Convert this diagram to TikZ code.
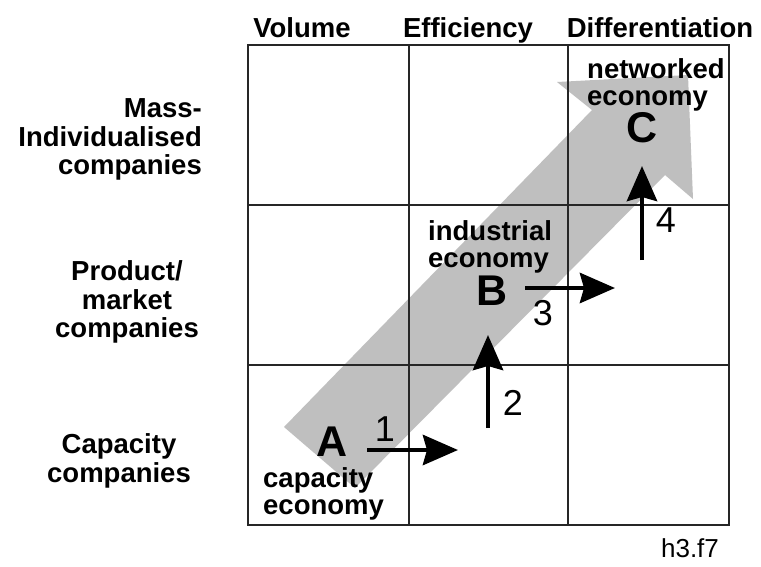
\documentclass[tikz,border=0pt]{standalone}
\usepackage{fontspec}
\setmainfont{Liberation Sans}
\usetikzlibrary{arrows.meta}
\begin{document}
\begin{tikzpicture}[x=1pt,y=-1pt,
  hdr/.style={font=\fontsize{27.5}{28.5}\selectfont\bfseries, inner sep=0pt, anchor=base},
  rowlbl/.style={font=\fontsize{27.5}{28.5}\selectfont\bfseries, inner sep=0pt},
  econ/.style={font=\fontsize{27.5}{27}\selectfont\bfseries, inner sep=0pt, align=left, anchor=west},
  letter/.style={font=\fontsize{43}{43}\selectfont\bfseries, inner sep=0pt},
  num/.style={font=\fontsize{36}{36}\selectfont, inner sep=0pt},
  move/.style={line width=4.8pt, -{Stealth[length=35pt,width=30pt,inset=4pt]}},
  gridline/.style={line width=1.3pt, draw=black!85},
  band/.style={fill=black!25}
]
\useasboundingbox (0,0) rectangle (761,566);
\fill[white] (0,0) rectangle (761,566);

% broad development arrow behind the matrix
\fill[band] (284,427) -- (592,110) -- (557,82) -- (688,75) -- (693,199)
  -- (665,175) -- (355,488) -- cycle;

% 3x3 matrix
\draw[gridline] (248,45) rectangle (729,525);
\draw[gridline] (409,45) -- (409,525) (568,45) -- (568,525);
\draw[gridline] (248,205) -- (729,205) (248,365) -- (729,365);

% column headers
\node[hdr] (hvol) at (302,37) {Volume};
\node[hdr] (heff) at (468,37) {Efficiency};
\node[hdr] (hdif) at (660,37) {Differentiation};

% row headers
\node[rowlbl, align=right, anchor=east] (rmass) at (202,139.5) {Mass-\\Individualised\\companies};
\node[rowlbl, align=center] (rprod) at (127,302) {Product/\\market\\companies};
\node[rowlbl, align=center] (rcap) at (119,461) {Capacity\\companies};

% economy stages
\node[letter] (A) at (332,442) {A};
\node[letter] (B) at (492,291) {B};
\node[letter] (C) at (642,128) {C};
\node[econ] (eA) at (263,494) {capacity\\economy};
\node[econ] (eB) at (428,247) {industrial\\economy};
\node[econ] (eC) at (587,85) {networked\\economy};

% transition arrows
\coordinate (s1) at (367,450); \coordinate (t1) at (458,450);
\coordinate (s2) at (488,428); \coordinate (t2) at (488,335);
\coordinate (s3) at (525,288); \coordinate (t3) at (615,288);
\coordinate (s4) at (642,260); \coordinate (t4) at (642,166);
\draw[move] (s1) -- (t1);
\draw[move] (s2) -- (t2);
\draw[move] (s3) -- (t3);
\draw[move] (s4) -- (t4);
\node[num] (n1) at (385,429) {1};
\node[num] (n2) at (513,403) {2};
\node[num] (n3) at (543,313) {3};
\node[num] (n4) at (666,220) {4};

\node[font=\fontsize{26}{26}\selectfont, inner sep=0pt] (tag) at (690,548) {h3.f7};
\end{tikzpicture}
\end{document}
